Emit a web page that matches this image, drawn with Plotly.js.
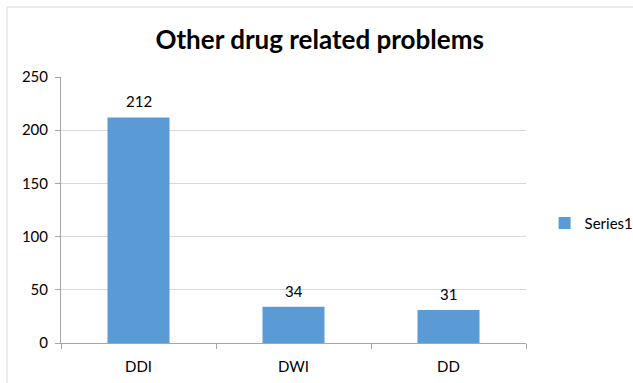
<!DOCTYPE html>
<html>
<head>
<meta charset="utf-8">
<script src="https://cdn.plot.ly/plotly-3.0.1.min.js"></script>
<style>html,body{margin:0;padding:0;background:#fff;}#chart{width:633px;height:383px;}</style>
</head>
<body>
<div id="chart"></div>
<script>
const categories = ["DDI", "DWI", "DD"];
const series1 = [212, 34, 31];
const seriesName = "Series1";
const yTicks = [0, 50, 100, 150, 200, 250];

const font = "Lato, 'Open Sans', 'Noto Sans', sans-serif";
const trace = {
  type: "bar",
  x: categories,
  y: series1,
  name: seriesName,
  marker: {color: "#5B9BD5"},
  showlegend: true
};
const labels = categories.map((c, i) => ({
  x: c, y: series1[i], xref: "x", yref: "y", text: String(series1[i]),
  showarrow: false, yanchor: "bottom", yshift: 5,
  font: {family: font, size: 15, color: "#000"}
}));
const layout = {
  width: 633, height: 383,
  margin: {l: 61, r: 107, t: 77, b: 40, autoexpand: false},
  paper_bgcolor: "#fff", plot_bgcolor: "#fff",
  bargap: 0.6,
  title: {text: "<b>Other drug related problems</b>", font: {family: font, size: 26, color: "#000"}, x: 0.505, xanchor: "center", y: 0.895, yanchor: "middle"},
  xaxis: {
    type: "category", showline: true, linecolor: "#a6a6a6", ticks: "outside", tickson: "boundaries",
    ticklen: 5, tickcolor: "#a6a6a6", showgrid: false, ticklabelstandoff: 10,
    tickfont: {family: font, size: 15, color: "#000"}
  },
  yaxis: {
    range: [0, 250], tickvals: yTicks, showline: true, linecolor: "#a6a6a6", ticks: "outside",
    ticklen: 5, tickcolor: "#a6a6a6", gridcolor: "#d9d9d9", zeroline: false, ticklabelstandoff: 4,
    tickfont: {family: font, size: 15, color: "#000"}
  },
  legend: {x: 1.04, y: 0.45, xanchor: "left", yanchor: "middle", font: {family: font, size: 15, color: "#000"}, itemwidth: 30, tracegroupgap: 0},
  annotations: labels,
  shapes: [{type: "rect", xref: "paper", yref: "paper", x0: -0.1161, x1: 1.4, y0: -0.3, y1: 1.263, line: {color: "#d9d9d9", width: 1}}]
};
Plotly.newPlot("chart", [trace], layout, {displayModeBar: false, staticPlot: true});
</script>
</body>
</html>
